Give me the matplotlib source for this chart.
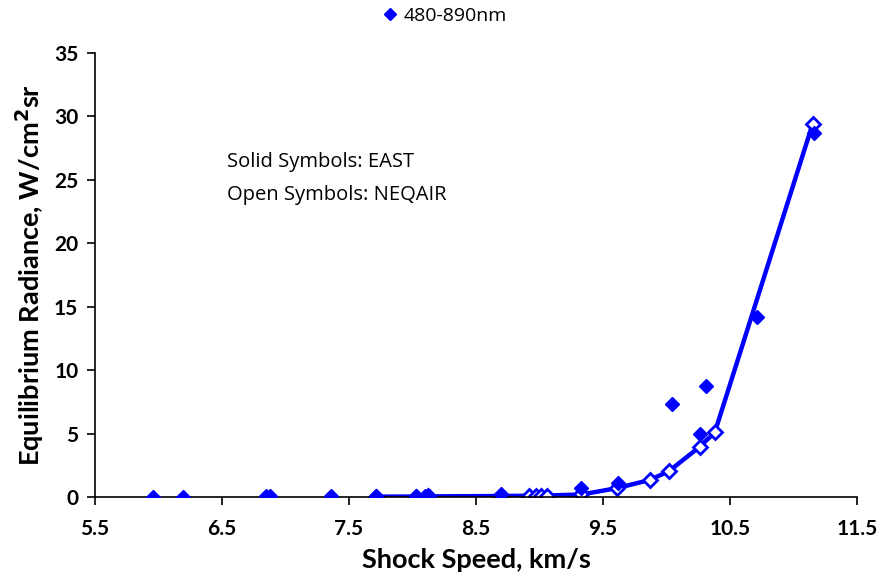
import matplotlib
matplotlib.use("Agg")
import matplotlib.pyplot as plt
from matplotlib.lines import Line2D

# EAST (solid symbols)
east_speed = [5.96, 6.19, 6.85, 6.88, 7.36, 7.71, 8.03, 8.10, 8.13, 8.70,
              9.33, 9.62, 10.04, 10.26, 10.31, 10.71, 11.16]
east_rad = [0.02, 0.03, 0.08, 0.10, 0.10, 0.08, 0.10, 0.12, 0.10, 0.25,
            0.70, 1.10, 7.30, 5.00, 8.75, 14.2, 28.7]

# NEQAIR (open symbols, connected by line)
neq_speed = [7.71, 8.03, 8.12, 8.70, 8.92, 8.97, 9.01, 9.06, 9.33, 9.61,
             9.87, 10.02, 10.26, 10.38, 11.15]
neq_rad = [0.03, 0.04, 0.05, 0.08, 0.10, 0.10, 0.11, 0.12, 0.20, 0.70,
           1.35, 2.05, 3.95, 5.10, 29.4]

xticks = [5.5, 6.5, 7.5, 8.5, 9.5, 10.5, 11.5]
yticks = [0, 5, 10, 15, 20, 25, 30, 35]

BLUE = "#0000FF"
LBL = ["Lato", "DejaVu Sans"]
TXT = ["Open Sans", "DejaVu Sans"]

fig = plt.figure(figsize=(8.9, 5.82), dpi=100)
ax = fig.add_axes([0.1067, 0.146, 0.8563, 0.763])

ax.plot(neq_speed, neq_rad, color=BLUE, lw=3.2, marker="D", ms=7,
        mfc="white", mec=BLUE, mew=2, zorder=2)
ax.plot(east_speed, east_rad, ls="none", marker="D", ms=7.5,
        color=BLUE, zorder=3)

ax.set_xlim(5.5, 11.5)
ax.set_ylim(0, 35)
ax.set_xticks(xticks)
ax.set_yticks(yticks)
ax.set_xticklabels([f"{v:.1f}" for v in xticks])
ax.set_yticklabels([str(v) for v in yticks])

for s in ["top", "right"]:
    ax.spines[s].set_visible(False)
for s in ["left", "bottom"]:
    ax.spines[s].set_linewidth(1.2)
    ax.spines[s].set_color("black")

ax.tick_params(axis="both", direction="out", length=6, width=1.2, color="black")
ax.tick_params(axis="x", pad=10)
ax.tick_params(axis="y", pad=6)
for lab in ax.get_xticklabels() + ax.get_yticklabels():
    lab.set_fontfamily(LBL)
    lab.set_fontweight("bold")
    lab.set_fontsize(15)

ax.set_xlabel("Shock Speed, km/s", fontfamily=LBL, fontweight="bold",
              fontsize=19.5, labelpad=6)
ax.set_ylabel("Equilibrium Radiance, W/cm$^\\mathbf{2}$sr", fontfamily=LBL,
              fontweight="bold", fontsize=19.5, labelpad=6)

ax.text(0.173, 0.755, "Solid Symbols: EAST", transform=ax.transAxes,
        fontfamily=TXT, fontsize=14.5, va="center", ha="left")
ax.text(0.173, 0.68, "Open Symbols: NEQAIR", transform=ax.transAxes,
        fontfamily=TXT, fontsize=14.5, va="center", ha="left")

handle = Line2D([], [], ls="none", marker="D", ms=6, color=BLUE)
fig.legend([handle], ["480-890nm"], loc="upper center",
           bbox_to_anchor=(0.5, 1.018), frameon=False, handletextpad=0.3,
           handlelength=0.8, prop={"family": TXT, "size": 14})

fig.savefig("out.png", dpi=100)
